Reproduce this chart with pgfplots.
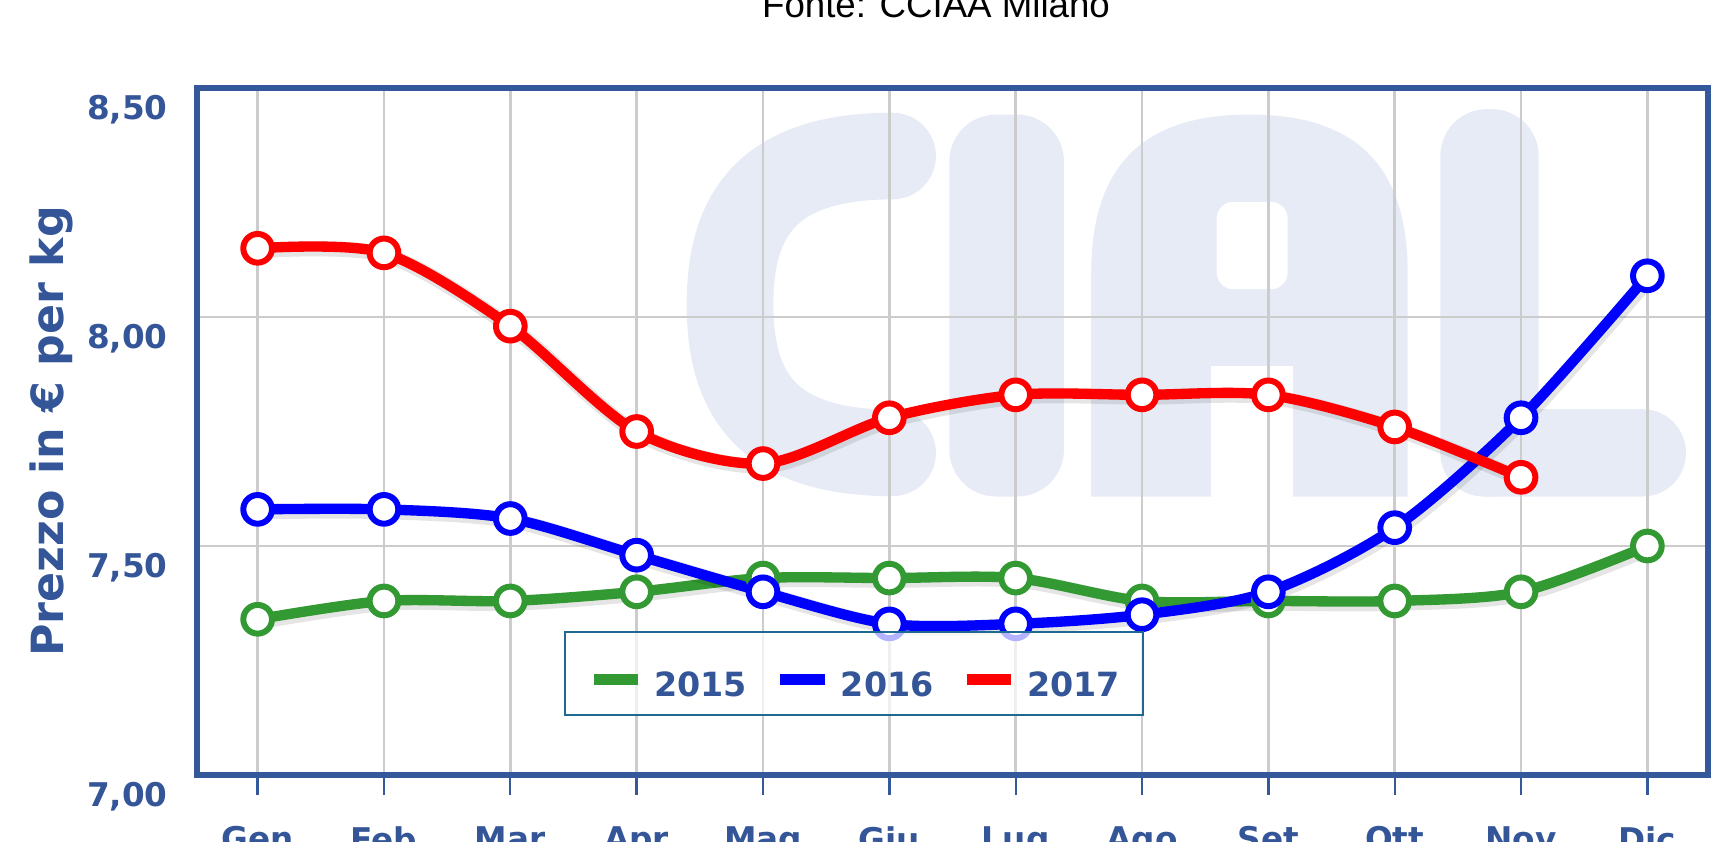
\documentclass[border=0pt]{standalone}
\usepackage{fontspec}
\setmainfont{DejaVu Sans}
\newfontfamily\titlefont{Liberation Sans}
\usepackage{pgfplots}
\usepackage{pgfplotstable}
\pgfplotsset{compat=1.18}
\definecolor{axblue}{RGB}{53,88,155}
\definecolor{lblue}{RGB}{52,86,152}
\definecolor{cgreen}{RGB}{51,153,51}
\definecolor{wm}{RGB}{230,235,245}
\definecolor{legb}{RGB}{30,105,145}
\definecolor{gridc}{RGB}{204,204,204}

\pgfplotstableread{
x y
0 7.34
1 7.38
2 7.38
3 7.40
4 7.43
5 7.43
6 7.43
7 7.38
8 7.38
9 7.38
10 7.40
11 7.50
}\tfifteen
\pgfplotstableread{
x y
0 7.58
1 7.58
2 7.56
3 7.48
4 7.40
5 7.33
6 7.33
7 7.35
8 7.40
9 7.54
10 7.78
11 8.09
}\tsixteen
\pgfplotstableread{
x y
0 8.15
1 8.14
2 7.98
3 7.75
4 7.68
5 7.78
6 7.83
7 7.83
8 7.83
9 7.76
10 7.65
}\tseventeen

\begin{document}
\begin{tikzpicture}
\path[use as bounding box] (-59.1pt,-19.8pt) rectangle (454.2pt,232.5pt);
\clip (-59.1pt,-19.8pt) rectangle (454.2pt,232.5pt);
% watermark (background decoration)
\begin{scope}[shift={(-59.1pt,232.5pt)}, x=0.32736pt, y=-0.32736pt]
  \draw[wm, line width=26pt, line cap=round] (818,143) .. controls (700,143) and (669,200) .. (669,279) .. controls (669,358) and (700,415) .. (818,415);
  \fill[wm, rounded corners=14pt] (870,105) rectangle (975,455);
  \fill[wm] (1000,455) -- (1000,250) .. controls (1000,140) and (1060,105) .. (1145,105) .. controls (1230,105) and (1290,140) .. (1290,250) -- (1290,455) -- cycle;
  \fill[white, rounded corners=5pt] (1115,185) rectangle (1180,265);
  \fill[white] (1110,335) rectangle (1185,456);
  \fill[wm, rounded corners=14pt] (1320,100) rectangle (1410,455);
  \fill[wm, rounded corners=13pt] (1320,375) rectangle (1545,455);
\end{scope}
\begin{axis}[
  at={(0pt,0pt)}, anchor=south west, scale only axis,
  width=453.3pt, height=206.1pt,
  xmin=-0.48, xmax=11.48, ymin=7, ymax=8.5,
  xtick={0,...,11},
  xticklabels={Gen,Feb,Mar,Apr,Mag,Giu,Lug,Ago,Set,Ott,Nov,Dic},
  ytick={7,7.5,8,8.5},
  yticklabels={{7,00},{7,50},{8,00},{8,50}},
  axis line style={draw=axblue, line width=2pt},
  grid=major,
  major grid style={draw=gridc, line width=0.8pt},
  tick align=outside,
  xtick pos=bottom,
  ytick pos=left,
  major tick length=6pt,
  xtick style={draw=axblue, line width=0.7pt},
  ytick style={draw=none},
  tick label style={text=lblue, font=\bfseries\fontsize{9.8}{11}\selectfont},
  xticklabel style={anchor=north, inner sep=0pt, yshift=-9.3pt},
  yticklabel style={anchor=base east, inner sep=0pt, xshift=-2.6pt, yshift=-9.3pt},
  ylabel={Prezzo in € per kg},
  ylabel style={at={(axis description cs:-0.0966,0.5)}, anchor=center, text=lblue, font=\bfseries\fontsize{13.3}{15}\selectfont},
  legend columns=3,
  legend style={at={(axis description cs:0.2429,0.0861)}, anchor=south west,
    draw=legb, line width=0.6pt, fill=white, fill opacity=0.7, text opacity=1, draw opacity=1,
    inner xsep=7pt, inner ysep=5.5pt,
    nodes={inner sep=0pt, text height=14pt, text depth=0pt, text=lblue, font=\bfseries\fontsize{10}{11}\selectfont},
    /tikz/every odd column/.append style={column sep=3.2pt},
    /tikz/every even column/.append style={column sep=8.3pt}},
  legend image code/.code={\draw[#1, line width=3.3pt] (0pt,-2pt) -- (13.3pt,-2pt);},
  every axis plot/.append style={smooth, tension=0.5, line width=3.1pt,
    mark=*, mark size=4.3pt, mark options={fill=white, line width=1.8pt}},
  shadowplot/.style={black, opacity=0.10, line width=4.5pt, mark=none, xshift=0.6pt, yshift=-0.7pt},
]
\addplot[shadowplot, forget plot] table[x=x,y=y] {\tfifteen};
\addplot[cgreen] table[x=x,y=y] {\tfifteen};
\addlegendentry{2015}
\addplot[shadowplot, forget plot] table[x=x,y=y] {\tsixteen};
\addplot[blue] table[x=x,y=y] {\tsixteen};
\addlegendentry{2016}
\addplot[shadowplot, forget plot] table[x=x,y=y] {\tseventeen};
\addplot[red] table[x=x,y=y] {\tseventeen};
\addlegendentry{2017}
\end{axis}
\node[anchor=base, inner sep=0pt, font=\titlefont\fontsize{11}{13}\selectfont] at (221.7pt,227.4pt) {Fonte: CCIAA Milano};
\end{tikzpicture}
\end{document}
